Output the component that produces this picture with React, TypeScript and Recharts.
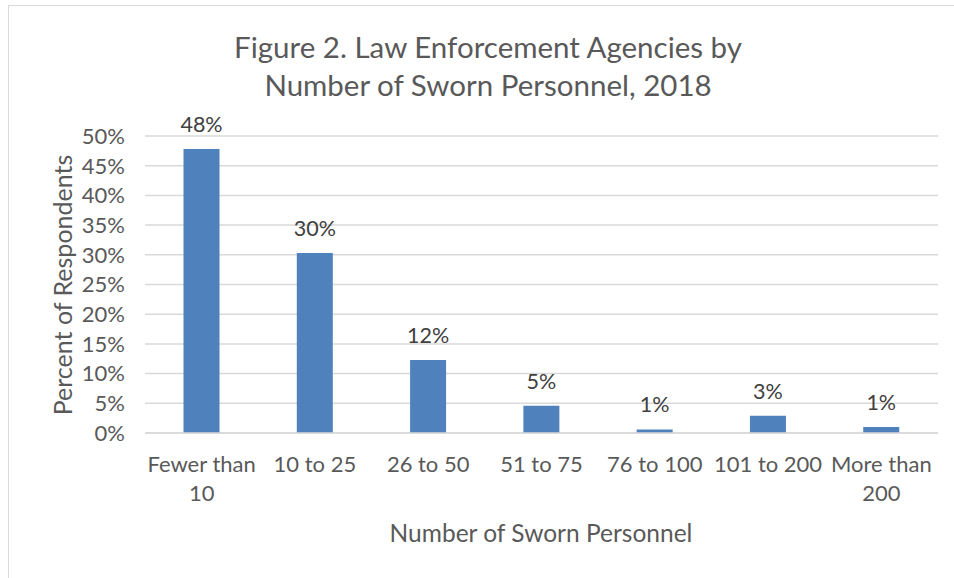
import { BarChart, Bar, XAxis, YAxis, CartesianGrid, LabelList } from 'recharts'

const categories = ['Fewer than 10', '10 to 25', '26 to 50', '51 to 75', '76 to 100', '101 to 200', 'More than 200']
const categoryLines = [['Fewer than', '10'], ['10 to 25'], ['26 to 50'], ['51 to 75'], ['76 to 100'], ['101 to 200'], ['More than', '200']]
const percentValues = [47.8, 30.3, 12.3, 4.6, 0.6, 2.9, 1.0]
const yTicks = [0, 5, 10, 15, 20, 25, 30, 35, 40, 45, 50]

const FONT = 'Lato, "Open Sans", sans-serif'
const TEXT = '#595959'

const data = categories.map((name, i) => ({ name, idx: i, pct: percentValues[i] }))

function CategoryTick(props: any) {
  const { x, y, payload } = props
  const lines = categoryLines[payload.index] ?? [payload.value]
  return (
    <text x={x} y={y} textAnchor="middle" fill={TEXT} fontSize={22} fontFamily={FONT}>
      {lines.map((line, i) => (
        <tspan key={i} x={x} dy={i === 0 ? 31 : 29}>{line}</tspan>
      ))}
    </text>
  )
}

export default function App() {
  return (
    <div style={{ position: 'absolute', left: 0, top: 0, width: 954, height: 578, background: '#fff', fontFamily: FONT }}>
      <div style={{ position: 'absolute', left: 8, top: 5, width: 960, height: 600, border: '1px solid #d9d9d9' }} />
      <div style={{ position: 'absolute', left: 0, top: 28, width: 976, textAlign: 'center', fontSize: 29.5, lineHeight: '38px', color: TEXT }}>
        Figure 2. Law Enforcement Agencies by<br />Number of Sworn Personnel, 2018
      </div>
      <div style={{ position: 'absolute', left: 62, top: 285, transform: 'translate(-50%, -50%) rotate(-90deg)', whiteSpace: 'nowrap', fontSize: 25, color: TEXT }}>
        Percent of Respondents
      </div>
      <div style={{ position: 'absolute', left: 541, top: 532, transform: 'translate(-50%, -50%)', whiteSpace: 'nowrap', fontSize: 24.5, color: TEXT }}>
        Number of Sworn Personnel
      </div>
      <div style={{ position: 'absolute', left: 0, top: 0 }}>
        <BarChart width={954} height={578} data={data} margin={{ top: 136, right: 16, left: 85, bottom: 35 }} barCategoryGap="34%">
          <CartesianGrid vertical={false} stroke="#d9d9d9" strokeWidth={1.5} />
          <XAxis dataKey="name" height={110} axisLine={{ stroke: '#d9d9d9', strokeWidth: 1.5 }} tickLine={false} tick={<CategoryTick />} interval={0} />
          <YAxis width={60} domain={[0, 50]} ticks={yTicks} interval={0} tickFormatter={(v: number) => `${v}%`} axisLine={false} tickLine={false} tickSize={0} tickMargin={20} tick={{ fill: TEXT, fontSize: 22, fontFamily: FONT }} />
          <Bar dataKey="pct" fill="#4f81bd" isAnimationActive={false}>
            <LabelList dataKey="pct" position="top" offset={17} formatter={(v: any) => `${Math.round(Number(v))}%`} fill="#404040" fontSize={21.5} fontFamily={FONT} />
          </Bar>
        </BarChart>
      </div>
    </div>
  )
}
